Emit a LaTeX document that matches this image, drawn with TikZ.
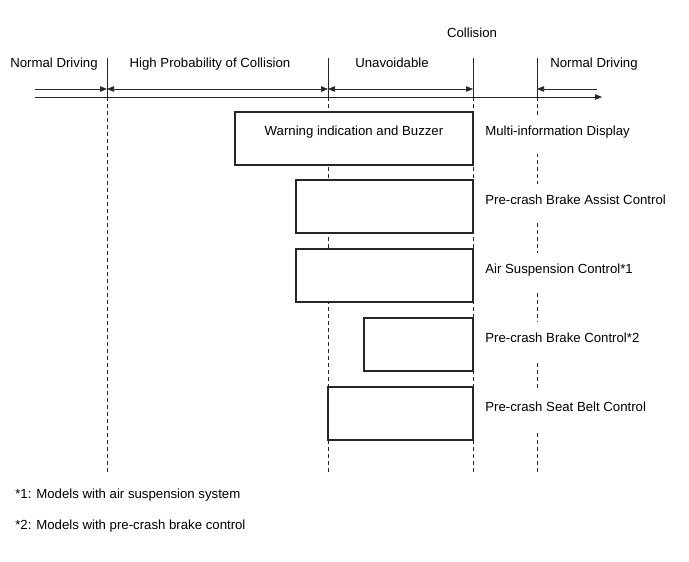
\documentclass[tikz,border=0pt]{standalone}
\usepackage{fontspec}
\setmainfont{Liberation Sans}
\usetikzlibrary{arrows.meta}
\tikzset{
	tip/.style={-{Triangle[length=7pt,width=5.5pt]}},
	tips/.style={{Triangle[length=7pt,width=5.5pt]}-{Triangle[length=7pt,width=5.5pt]}},
	guide/.style={dash pattern=on 4pt off 3pt},
	bar/.style={draw,fill=white,line width=1.2pt,inner sep=0pt,outer sep=0pt,minimum height=53pt,anchor=north east},
	phase/.style={anchor=base,inner sep=0pt},
	unit/.style={anchor=base west,fill=white,inner xsep=1pt,inner ysep=10pt,text height=10pt,text depth=9pt},
}
\begin{document}
\begin{tikzpicture}[x=1pt,y=-1pt,font=\fontsize{13.2}{15}\selectfont,line width=0.7pt,draw=black!85]
	\useasboundingbox (0,0) rectangle (689,562);
	% time axis
	\coordinate (s1) at (35,89);
	\coordinate (t1) at (107,89);
	\coordinate (t2) at (328,89);
	\coordinate (t3) at (473,89);
	\coordinate (t4) at (537,89);
	\coordinate (e1) at (597,89);
	\coordinate (s2) at (35,97);
	\coordinate (e2) at (602,97);
	\draw[tip] (s1) -- (t1);
	\draw[tips] (t1) -- (t2);
	\draw[tips] (t2) -- (t3);
	\draw[tip] (e1) -- (t4);
	\draw[tip] (s2) -- (e2);
	% phase limits
	\draw (107,58) -- (107,97);
	\draw (328,58) -- (328,97);
	\draw (473,58) -- (473,97);
	\draw (537,58) -- (537,97);
	\draw[guide] (107,97) -- (107,472);
	\draw[guide] (328,97) -- (328,472);
	\draw[guide] (473,97) -- (473,472);
	\draw[guide] (537,97) -- (537,472);
	% phase names
	\draw (472,37) node[phase] (coll) {Collision};
	\draw (54,67) node[phase] (nd1) {Normal Driving};
	\draw (210,67) node[phase] (high) {High Probability of Collision};
	\draw (392,67) node[phase] (unav) {Unavoidable};
	\draw (594,67) node[phase] (nd2) {Normal Driving};
	% operating times
	\draw (473,112) node[bar,minimum width=238pt] (mid) {};
	\draw (473,180) node[bar,minimum width=177pt] (pba) {};
	\draw (473,249) node[bar,minimum width=177pt] (ahc) {};
	\draw (473,318) node[bar,minimum width=109pt] (pb) {};
	\draw (473,387) node[bar,minimum width=145pt] (psb) {};
	\draw (354,135) node[phase] (buzz) {Warning indication and Buzzer};
	% systems
	\draw (484,135) node[unit] (l1) {Multi-information Display};
	\draw (484,204) node[unit] (l2) {Pre-crash Brake Assist Control};
	\draw (484,273) node[unit] (l3) {Air Suspension Control*1};
	\draw (484,342) node[unit] (l4) {Pre-crash Brake Control*2};
	\draw (484,411) node[unit] (l5) {Pre-crash Seat Belt Control};
	% notes
	\draw (15,498) node[anchor=base west,inner sep=0pt] (n1) {*1: Models with air suspension system};
	\draw (15,529) node[anchor=base west,inner sep=0pt] (n2) {*2: Models with pre-crash brake control};
\end{tikzpicture}
\end{document}
